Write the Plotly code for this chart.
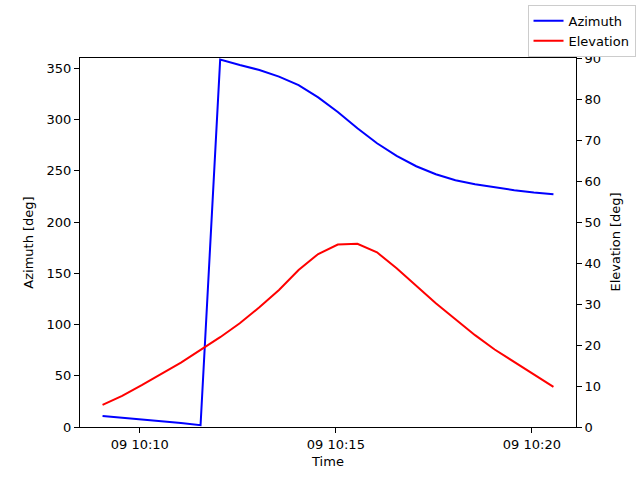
import plotly.graph_objects as go

# pass samples every 30 s
times = ['2023-01-09 10:09:03', '2023-01-09 10:09:33', '2023-01-09 10:10:03', '2023-01-09 10:10:33',
         '2023-01-09 10:11:03', '2023-01-09 10:11:33', '2023-01-09 10:12:03', '2023-01-09 10:12:33',
         '2023-01-09 10:13:03', '2023-01-09 10:13:33', '2023-01-09 10:14:03', '2023-01-09 10:14:33',
         '2023-01-09 10:15:03', '2023-01-09 10:15:33', '2023-01-09 10:16:03', '2023-01-09 10:16:33',
         '2023-01-09 10:17:03', '2023-01-09 10:17:33', '2023-01-09 10:18:03', '2023-01-09 10:18:33',
         '2023-01-09 10:19:03', '2023-01-09 10:19:33', '2023-01-09 10:20:03', '2023-01-09 10:20:33']

azimuth = [10.7, 9.2, 7.6, 5.9, 4.0, 1.8, 358.4, 353.1, 348.3, 341.8, 333.6, 321.6,
           307.3, 291.5, 276.8, 264.5, 254.4, 246.6, 240.7, 236.8, 233.6, 231.0, 228.8, 227.1]

elevation = [5.4, 7.6, 10.2, 12.9, 15.7, 18.8, 21.9, 25.3, 29.2, 33.4, 38.3, 42.2,
             44.5, 44.7, 42.6, 38.7, 34.5, 30.2, 26.3, 22.4, 18.9, 15.8, 12.7, 9.8]

font = dict(family="DejaVu Sans", size=13, color="black")

fig = go.Figure()
fig.add_trace(go.Scatter(x=times, y=azimuth, mode='lines', name='Azimuth',
                         line=dict(color='blue', width=2)))
fig.add_trace(go.Scatter(x=times, y=elevation, mode='lines', name='Elevation',
                         line=dict(color='red', width=2), yaxis='y2'))

axis_style = dict(showgrid=False, zeroline=False, showline=True, linecolor='black', linewidth=1,
                  ticks='outside', ticklen=5, tickcolor='black', tickfont=font)

fig.update_layout(
    width=640, height=480,
    margin=dict(l=80, r=64, t=58, b=53, autoexpand=False),
    plot_bgcolor='white', paper_bgcolor='white',
    font=font,
    xaxis=dict(range=['2023-01-09 10:08:28.5', '2023-01-09 10:21:07.5'],
               tick0='2023-01-09 10:10:00', dtick=300000, tickformat='%d %H:%M',
               mirror=True, title=dict(text='Time', font=font, standoff=6), **axis_style),
    yaxis=dict(range=[0, 360], tickvals=[0, 50, 100, 150, 200, 250, 300, 350],
               title=dict(text='Azimuth [deg]', font=font, standoff=10), **axis_style),
    yaxis2=dict(range=[0, 90], tickvals=[0, 10, 20, 30, 40, 50, 60, 70, 80, 90],
                overlaying='y', side='right', **axis_style),
    legend=dict(xref='container', yref='container', x=0.993, y=0.99, xanchor='right', yanchor='top',
                bordercolor='#cccccc', borderwidth=1, bgcolor='white', font=font,
                itemwidth=30, tracegroupgap=2),
    showlegend=True,
)

# right axis title as annotation
fig.add_annotation(text='Elevation [deg]', xref='paper', yref='paper', x=1, y=0.5,
                   xanchor='center', yanchor='middle', xshift=39, textangle=-90,
                   showarrow=False, font=font)

fig.write_html("out.html", config={'displayModeBar': False},
               post_script="document.body.style.margin='0';")
